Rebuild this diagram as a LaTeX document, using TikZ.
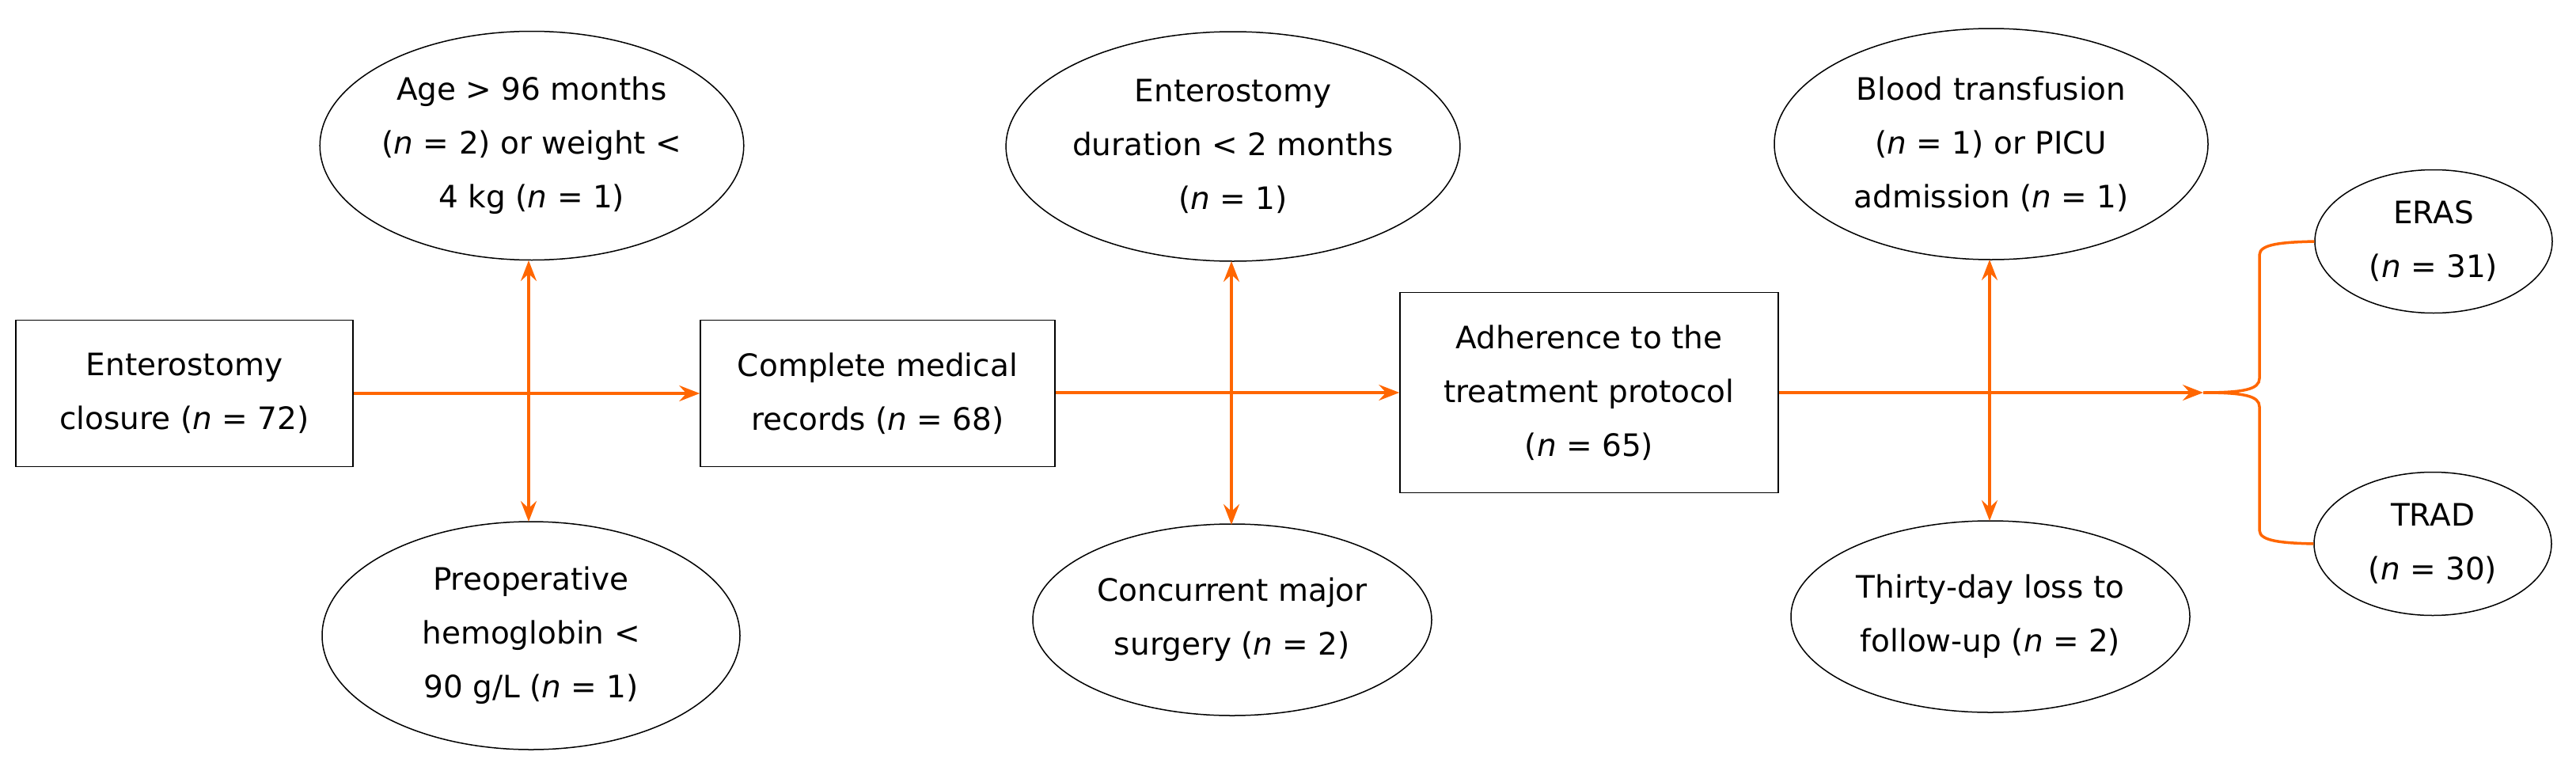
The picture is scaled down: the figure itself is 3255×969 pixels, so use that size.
\documentclass[tikz,border=0pt]{standalone}
\usepackage{fontspec}
\setmainfont{DejaVu Sans}
\usetikzlibrary{shapes.geometric,arrows.meta}
\definecolor{org}{HTML}{FF6600}
\begin{document}
\begin{tikzpicture}[x=1pt,y=-1pt,
  every node/.style={font=\fontsize{39}{68}\selectfont, align=center, inner sep=0pt},
  box/.style={draw, line width=1.5pt, rectangle},
  ell/.style={draw, line width=1.5pt, ellipse},
  con/.style={draw=org, line width=3.5pt},
  tip/.style={-{Stealth[length=26pt,width=20pt,inset=9pt]}},
  dtip/.style={{Stealth[length=26pt,width=20pt,inset=9pt]}-{Stealth[length=26pt,width=20pt,inset=9pt]}}]
\useasboundingbox (0,0) rectangle (3255,969);
\node[box, minimum width=426pt, minimum height=185pt] (b1) at (233,497) {Enterostomy\\closure (\textit{n} = 72)};
\node[box, minimum width=448pt, minimum height=185pt] (b2) at (1109,497) {Complete medical\\records (\textit{n} = 68)};
\node[box, minimum width=478pt, minimum height=253pt] (b3) at (2008,496) {Adherence to the\\treatment protocol\\(\textit{n} = 65)};
\node[ell, minimum width=528pt, minimum height=289pt] (e1t) at (672,184) {Age > 96 months\\(\textit{n} = 2) or weight <\\4 kg (\textit{n} = 1)};
\node[ell, minimum width=528pt, minimum height=288pt] (e1b) at (671,803) {Preoperative\\hemoglobin <\\90 g/L (\textit{n} = 1)};
\node[ell, minimum width=528pt, minimum height=290pt] (e2t) at (1558,185) {Enterostomy\\duration < 2 months\\(\textit{n} = 1)};
\node[ell, minimum width=504pt, minimum height=242pt] (e2b) at (1557,783) {Concurrent major\\surgery (\textit{n} = 2)};
\node[ell, minimum width=548pt, minimum height=292pt] (e3t) at (2516,182) {Blood transfusion\\(\textit{n} = 1) or PICU\\admission (\textit{n} = 1)};
\node[ell, minimum width=504pt, minimum height=242pt] (e3b) at (2515,779) {Thirty-day loss to\\follow-up (\textit{n} = 2)};
\node[ell, minimum width=300pt, minimum height=181pt] (eras) at (3075,305) {ERAS\\(\textit{n} = 31)};
\node[ell, minimum width=300pt, minimum height=181pt] (trad) at (3074,687) {TRAD\\(\textit{n} = 30)};
\coordinate (t) at (2784,496);
\draw[con, tip] (b1.east) -- (b2.west);
\draw[con, tip] (b2.east |- b3.west) -- (b3.west);
\draw[con, tip] (b3.east) -- (t);
\draw[con, dtip] (668,329) -- (668,659);
\draw[con, dtip] (1556,330) -- (1556,663);
\draw[con, dtip] (2514,328) -- (2514,658);
\draw[con] (t) .. controls (2835,496) and (2855,492) .. (2855,478) -- (2855,322)
  .. controls (2855,308) and (2885,306) .. (eras.west);
\draw[con] (t) .. controls (2835,496) and (2855,500) .. (2855,514) -- (2855,670)
  .. controls (2855,684) and (2885,686) .. (trad.west);
\end{tikzpicture}
\end{document}
